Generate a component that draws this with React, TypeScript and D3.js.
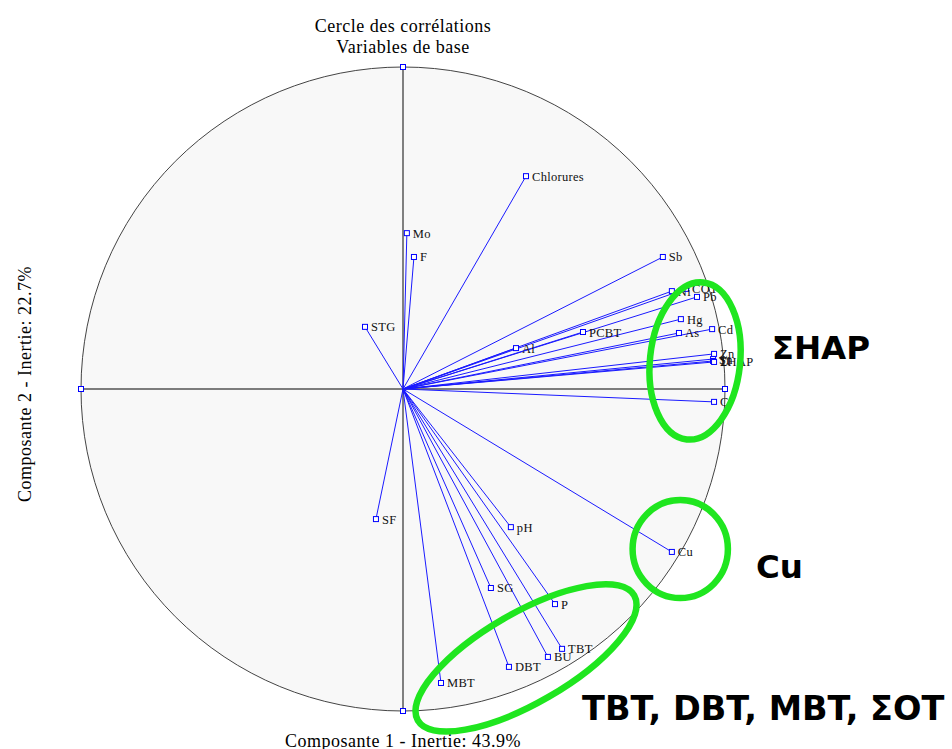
import * as d3 from "d3";

// correlation circle: variables and their coordinates on components 1 and 2
const variables = [
  "Chlorures", "Mo", "F", "STG", "Sb", "Ni", "COT", "Pb", "Hg", "As", "Cd", "PCBT", "Al",
  "Zn", "Sn", "Ti", "ΣHAP", "Cr", "Cu", "SF", "pH", "SG", "P", "TBT", "BU", "DBT", "MBT",
];
const comp1 = [
  0.382, 0.012, 0.034, -0.118, 0.807, 0.835, 0.879, 0.913, 0.863, 0.857, 0.960, 0.559, 0.351,
  0.966, 0.963, 0.963, 0.966, 0.966, 0.835, -0.084, 0.335, 0.273, 0.472, 0.494, 0.450, 0.329, 0.118,
];
const comp2 = [
  0.661, 0.484, 0.410, 0.193, 0.410, 0.304, 0.311, 0.286, 0.217, 0.174, 0.186, 0.177, 0.127,
  0.109, 0.093, 0.087, 0.084, -0.040, -0.506, -0.404, -0.429, -0.618, -0.668, -0.807, -0.832, -0.863, -0.913,
];

const axisEnds = [[1, 0], [-1, 0], [0, 1], [0, -1]];

// green hand-drawn annotations (centre / radii in correlation units)
const groupNames = ["ΣHAP", "Cu", "TBT, DBT, MBT, ΣOT"];
const groupCx = [0.907, 0.861, 0.382];
const groupCy = [0.087, -0.497, -0.835];
const groupRx = [0.14, 0.148, 0.388];
const groupRy = [0.245, 0.152, 0.14];
const groupAngle = [6, 0, -30];
const groupTextX = [1.145, 1.096, 0.556];
const groupTextY = [0.093, -0.587, -1.028];
const groupFont = [32.5, 32.5, 33.5];

const title = ["Cercle des corrélations", "Variables de base"];
const xTitle = "Composante 1 - Inertie: 43.9%";
const yTitle = "Composante 2 - Inertie: 22.7%";

export default function App() {
  const width = 952;
  const height = 749;
  const cx = 403;
  const cy = 389;
  const R = 322;

  const x = d3.scaleLinear().domain([-1, 1]).range([cx - R, cx + R]);
  const y = d3.scaleLinear().domain([-1, 1]).range([cy + R, cy - R]);

  const serif = "'Liberation Serif', 'Times New Roman', serif";
  const green = "#1fe61f";

  const pts = variables.map((name, i) => ({ name, a: comp1[i], b: comp2[i] }));

  return (
    <div style={{ position: "absolute", left: 0, top: 0 }}>
      <svg width={width} height={height} style={{ display: "block" }}>
        <rect width={width} height={height} fill="#fff" />

        <circle cx={x(0)} cy={y(0)} r={x(1) - x(0)} fill="#f8f8f8" stroke="#444" strokeWidth={1} />

        <line x1={x(0)} x2={x(0)} y1={y(1)} y2={y(-1)} stroke="#808080" strokeWidth={2} />
        <line x1={x(-1)} x2={x(1)} y1={y(0)} y2={y(0)} stroke="#000" strokeWidth={1} />

        {pts.map((d) => (
          <line key={"l" + d.name} x1={x(0)} y1={y(0)} x2={x(d.a)} y2={y(d.b)}
            stroke="#1a1aff" strokeWidth={1} />
        ))}

        {axisEnds.map(([a, b], i) => (
          <rect key={"e" + i} x={x(a) - 2.5} y={y(b) - 2.5} width={5} height={5}
            fill="#fff" stroke="#0000ff" strokeWidth={1} />
        ))}

        {pts.map((d) => (
          <rect key={"s" + d.name} x={x(d.a) - 2.5} y={y(d.b) - 2.5} width={5} height={5}
            fill="#fff" stroke="#0000ff" strokeWidth={1} />
        ))}

        {pts.map((d) => (
          <text key={"t" + d.name} x={x(d.a) + 6} y={y(d.b) + 4.5}
            fontFamily={serif} fontSize={12.5} letterSpacing={0.3} fill="#111">
            {d.name}
          </text>
        ))}

        <g fontFamily={serif} fontSize={18} letterSpacing={0.5} fill="#000" textAnchor="middle">
          <text x={x(0)} y={32}>{title[0]}</text>
          <text x={x(0)} y={53}>{title[1]}</text>
          <text x={x(0)} y={747}>{xTitle}</text>
          <text transform={`translate(31,${y(0) - 5}) rotate(-90)`}>{yTitle}</text>
        </g>

        {groupNames.map((name, i) => (
          <g key={"g" + i}>
            <ellipse
              transform={`translate(${x(groupCx[i])},${y(groupCy[i])}) rotate(${groupAngle[i]})`}
              rx={x(groupRx[i]) - x(0)} ry={x(groupRy[i]) - x(0)}
              fill="none" stroke={green} strokeWidth={6.5} />
            <text x={x(groupTextX[i])} y={y(groupTextY[i])}
              fontFamily="'DejaVu Sans', Verdana, sans-serif" fontWeight="bold"
              fontSize={groupFont[i]} fill="#000">
              {name}
            </text>
          </g>
        ))}
      </svg>
    </div>
  );
}
